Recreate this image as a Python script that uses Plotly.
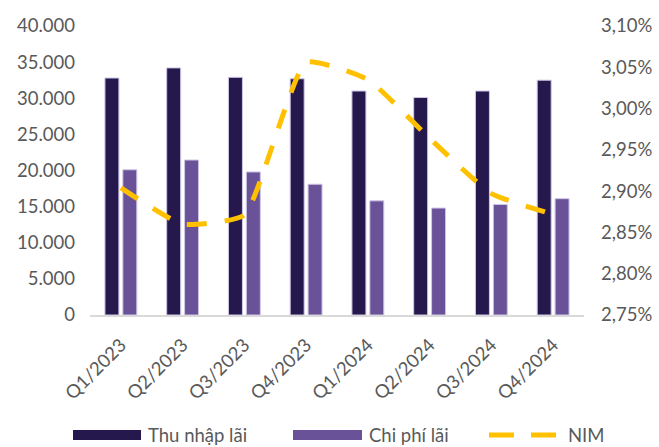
import plotly.graph_objects as go

categories = ["Q1/2023", "Q2/2023", "Q3/2023", "Q4/2023", "Q1/2024", "Q2/2024", "Q3/2024", "Q4/2024"]
thu_nhap_lai = [32800, 34200, 32900, 32700, 31000, 30100, 31000, 32500]
chi_phi_lai = [20100, 21450, 19800, 18100, 15800, 14800, 15300, 16100]
nim = [0.02904, 0.02860, 0.02871, 0.03056, 0.03035, 0.02964, 0.02897, 0.02872]

DARK = "#24184d"
PURPLE = "#6a5299"
GOLD = "#ffc000"
GREY = "#595959"
FONT = "Lato"
FS = 18.5

fig = go.Figure()
fig.add_trace(go.Bar(x=categories, y=thu_nhap_lai, name="Thu nhập lãi",
                     marker=dict(color=DARK, line=dict(color="#cfc6e6", width=1)),
                     showlegend=False))
fig.add_trace(go.Bar(x=categories, y=chi_phi_lai, name="Chi phí lãi",
                     marker=dict(color=PURPLE, line=dict(color="#cfc6e6", width=1)),
                     showlegend=False))
fig.add_trace(go.Scatter(x=categories, y=nim, name="NIM", yaxis="y2", mode="lines",
                         line=dict(color=GOLD, width=5, dash="20px,18px", shape="spline", smoothing=0.45),
                         showlegend=False))

L, R, T, B = 90, 75, 26, 132
W, H = 659, 447
pw, ph = W - L - R, H - T - B

def px(x):
    return (x - L) / pw

def py(y):
    return (H - B - y) / ph

shapes = [
    dict(type="rect", xref="paper", yref="paper", x0=px(73), x1=px(141), y0=py(440), y1=py(430),
         fillcolor=DARK, line=dict(width=0)),
    dict(type="rect", xref="paper", yref="paper", x0=px(293), x1=px(362), y0=py(440), y1=py(430),
         fillcolor=PURPLE, line=dict(width=0)),
    dict(type="line", xref="paper", yref="paper", x0=px(489), x1=px(514), y0=py(435), y1=py(435),
         line=dict(color=GOLD, width=5)),
    dict(type="line", xref="paper", yref="paper", x0=px(531), x1=px(556), y0=py(435), y1=py(435),
         line=dict(color=GOLD, width=5)),
]
annotations = [
    dict(text=t, xref="paper", yref="paper", x=px(xx), y=py(435), xanchor="left", yanchor="middle",
         showarrow=False, font=dict(family=FONT, size=FS, color=GREY))
    for t, xx in [("Thu nhập lãi", 146), ("Chi phí lãi", 367), ("NIM", 566)]
]

fig.update_layout(
    width=W, height=H,
    margin=dict(l=L, r=R, t=T, b=B),
    paper_bgcolor="white", plot_bgcolor="white",
    separators=",.",
    barmode="group", bargap=0.42, bargroupgap=0.22,
    font=dict(family=FONT, size=FS, color=GREY),
    xaxis=dict(tickangle=-45, showline=True, linecolor="#d9d9d9", linewidth=2,
               ticks="", showgrid=False, automargin=False, ticklabelstandoff=10,
               tickfont=dict(size=FS, color=GREY)),
    yaxis=dict(range=[0, 40000], dtick=5000, tickformat=",.0f", showgrid=False, automargin=False,
               zeroline=False, ticks="", ticklabelstandoff=14, tickfont=dict(size=FS, color=GREY)),
    yaxis2=dict(range=[0.0275, 0.031], dtick=0.0005, tickformat=".2%", overlaying="y",
                side="right", showgrid=False, zeroline=False, ticks="", automargin=False,
                ticklabelstandoff=16, tickfont=dict(size=FS, color=GREY)),
    shapes=shapes, annotations=annotations,
)

fig.write_html("out.html", config={"displayModeBar": False},
               post_script="document.body.style.margin='0';document.body.style.overflow='hidden';")
